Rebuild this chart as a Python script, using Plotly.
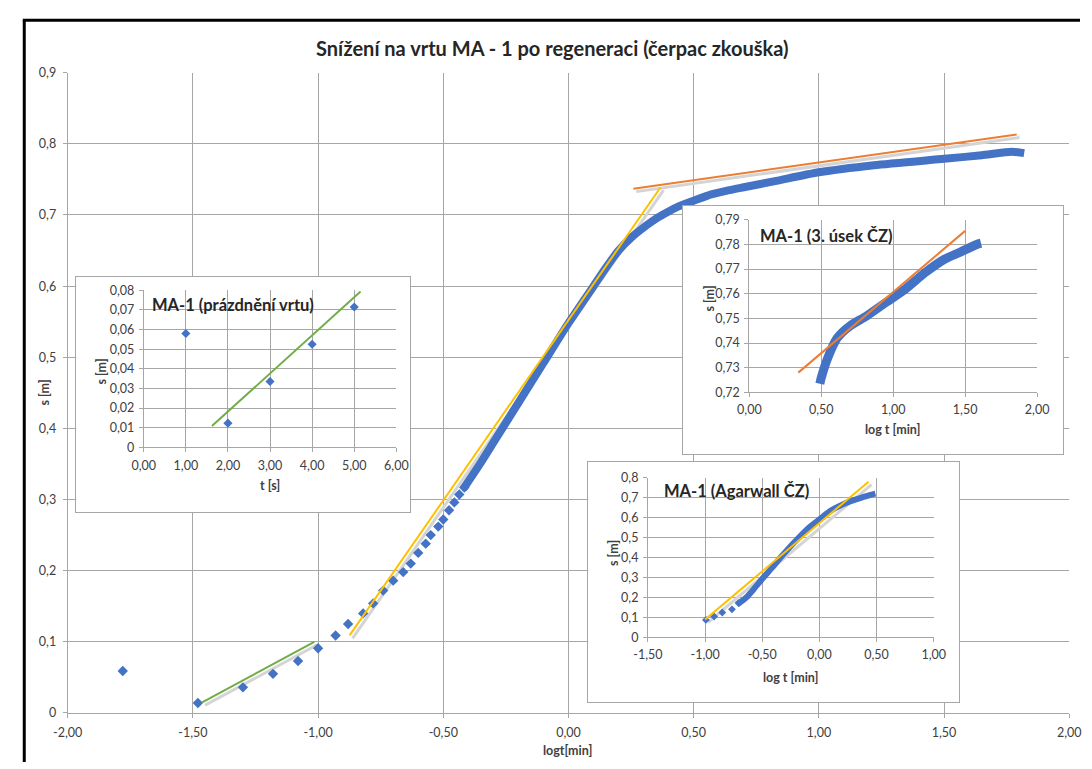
import plotly.graph_objects as go

W, H = 1092, 769
FONT = "Lato, 'Open Sans', sans-serif"
BLUE = "#4472C4"
GREEN = "#70AD47"
YELLOW = "#FFC000"
ORANGE = "#ED7D31"
SHADOW = "#d4d4d4"
GRID = "#a6a6a6"
BOXC = "#a6a6a6"
TXT = "#404040"
DARK = "#262626"

# ---------------- main chart data ----------------
main_pts_logt = [-1.78, -1.48, -1.30, -1.18, -1.08, -1.00, -0.93, -0.88, -0.82, -0.78,
                 -0.74, -0.70, -0.66, -0.63, -0.60, -0.57, -0.55, -0.52, -0.50, -0.477,
                 -0.456, -0.436, -0.416]
main_pts_s = [0.059, 0.014, 0.036, 0.055, 0.073, 0.091, 0.109, 0.125, 0.140, 0.154,
              0.172, 0.186, 0.198, 0.210, 0.225, 0.238, 0.250, 0.262, 0.272, 0.285,
              0.296, 0.307, 0.317]
main_band_logt = [-0.42, -0.35, -0.30, -0.20, -0.10, 0.00, 0.10, 0.15, 0.20, 0.25,
                  0.31, 0.35, 0.40, 0.44, 0.50, 0.57, 0.63, 0.70, 0.83, 1.00,
                  1.22, 1.50, 1.65, 1.77, 1.82]
main_band_s = [0.315, 0.352, 0.380, 0.436, 0.492, 0.548, 0.600, 0.626, 0.650, 0.668,
               0.685, 0.695, 0.705, 0.712, 0.720, 0.729, 0.734, 0.739, 0.748, 0.760,
               0.770, 0.779, 0.784, 0.789, 0.787]
main_green_logt = [-1.463, -1.015]
main_green_s = [0.015, 0.100]
main_yellow_logt = [-0.874, 0.368]
main_yellow_s = [0.109, 0.739]
main_orange_logt = [0.259, 1.79]
main_orange_s = [0.737, 0.813]
main_x_ticks = [-2.0, -1.5, -1.0, -0.5, 0.0, 0.5, 1.0, 1.5, 2.0]
main_x_ticktext = ["-2,00", "-1,50", "-1,00", "-0,50", "0,00", "0,50", "1,00", "1,50", "2,00"]

# ---------------- inset 1: MA-1 (prázdnění vrtu) ----------------
in1_t = [1, 2, 3, 4, 5]
in1_s = [0.058, 0.0123, 0.0335, 0.0525, 0.0715]
in1_green_t = [1.62, 5.15]
in1_green_s = [0.0108, 0.0794]
in1_x_ticks = [0, 1, 2, 3, 4, 5, 6]
in1_x_ticktext = ["0,00", "1,00", "2,00", "3,00", "4,00", "5,00", "6,00"]

# ---------------- inset 2: MA-1 (3. úsek ČZ) ----------------
in2_logt = [0.49, 0.50, 0.545, 0.61, 0.70, 0.815, 0.95, 1.086, 1.22, 1.356, 1.47, 1.58, 1.61]
in2_s = [0.7235, 0.726, 0.734, 0.742, 0.747, 0.751, 0.7565, 0.762, 0.7685, 0.774, 0.777, 0.780, 0.7805]
in2_orange_logt = [0.34, 1.50]
in2_orange_s = [0.728, 0.7855]
in2_x_ticks = [0.0, 0.5, 1.0, 1.5, 2.0]
in2_x_ticktext = ["0,00", "0,50", "1,00", "1,50", "2,00"]

# ---------------- inset 3: MA-1 (Agarwall ČZ) ----------------
in3_pts_logt = [-0.993, -0.921, -0.85, -0.765, -0.708]
in3_pts_s = [0.088, 0.105, 0.125, 0.141, 0.172]
in3_band_logt = [-0.72, -0.64, -0.57, -0.49, -0.41, -0.34, -0.26, -0.18, -0.08, 0.02,
                 0.10, 0.20, 0.28, 0.37, 0.44, 0.49]
in3_band_s = [0.165, 0.200, 0.245, 0.300, 0.352, 0.400, 0.452, 0.500, 0.555, 0.600,
              0.635, 0.665, 0.684, 0.700, 0.713, 0.720]
in3_yellow_logt = [-1.0, 0.43]
in3_yellow_s = [0.09, 0.78]
in3_x_ticks = [-1.5, -1.0, -0.5, 0.0, 0.5, 1.0]
in3_x_ticktext = ["-1,50", "-1,00", "-0,50", "0,00", "0,50", "1,00"]

# ---------------- layout geometry (pixels) ----------------
MAIN_X, MAIN_Y, MAIN_XR, MAIN_YR = (54, 1081), (66, 719), [-2, 2], [0, 0.9]
BOX1 = (63, 274, 405, 514)
IN1_X, IN1_Y, IN1_XR, IN1_YR = (132, 391), (288, 448), [0, 6], [0, 0.08]
BOX2 = (685, 202, 1075, 455)
IN2_X, IN2_Y, IN2_XR, IN2_YR = (753, 1048), (216, 392), [0, 2], [0.72, 0.79]
BOX3 = (588, 463, 968, 708)
IN3_X, IN3_Y, IN3_XR, IN3_YR = (649, 942), (479, 642), [-1.5, 1.0], [0, 0.8]


def dom_x(l, r):
    return [l / W, r / W]


def dom_y(t, b):
    return [1 - b / H, 1 - t / H]


def shadow(xs, ys, xpx, ypx, xr, yr, off=3):
    sx = (xr[1] - xr[0]) / (xpx[1] - xpx[0])
    sy = (yr[1] - yr[0]) / (ypx[1] - ypx[0])
    return [v + off * sx for v in xs], [v - off * sy for v in ys]


fig = go.Figure()


def add_line(xs, ys, color, width, xa, ya):
    fig.add_trace(go.Scatter(x=xs, y=ys, mode="lines",
                             line=dict(color=color, width=width, shape="spline", smoothing=0.6),
                             xaxis=xa, yaxis=ya, hoverinfo="skip", showlegend=False))


def add_pts(xs, ys, size, xa, ya):
    fig.add_trace(go.Scatter(x=xs, y=ys, mode="markers",
                             marker=dict(symbol="diamond", size=size, color=BLUE, line=dict(width=0)),
                             xaxis=xa, yaxis=ya, hoverinfo="skip", showlegend=False))


def add_box(xa, ya):
    fig.add_trace(go.Scatter(x=[0, 1, 1, 0], y=[0, 0, 1, 1], fill="toself", fillcolor="white",
                             mode="none", xaxis=xa, yaxis=ya, hoverinfo="skip", showlegend=False))


# main
for xs, ys in [(main_green_logt, main_green_s), (main_yellow_logt, main_yellow_s),
               (main_orange_logt, main_orange_s)]:
    a, b = shadow(xs, ys, MAIN_X, MAIN_Y, MAIN_XR, MAIN_YR)
    add_line(a, b, SHADOW, 3, "x", "y")
add_pts(main_pts_logt, main_pts_s, 8, "x", "y")
add_line(main_band_logt, main_band_s, BLUE, 8, "x", "y")
add_line(main_green_logt, main_green_s, GREEN, 2, "x", "y")
add_line(main_yellow_logt, main_yellow_s, YELLOW, 2, "x", "y")
add_line(main_orange_logt, main_orange_s, ORANGE, 2, "x", "y")

# inset 1
add_box("x2", "y2")
add_pts(in1_t, in1_s, 7, "x3", "y3")
add_line(in1_green_t, in1_green_s, GREEN, 2, "x3", "y3")

# inset 2
add_box("x4", "y4")
add_line(in2_logt, in2_s, BLUE, 9, "x5", "y5")
add_line(in2_orange_logt, in2_orange_s, ORANGE, 2, "x5", "y5")

# inset 3
add_box("x6", "y6")
a, b = shadow(in3_yellow_logt, in3_yellow_s, IN3_X, IN3_Y, IN3_XR, IN3_YR)
add_line(a, b, SHADOW, 3, "x7", "y7")
add_pts(in3_pts_logt, in3_pts_s, 6, "x7", "y7")
add_line(in3_band_logt, in3_band_s, BLUE, 6, "x7", "y7")
add_line(in3_yellow_logt, in3_yellow_s, YELLOW, 2, "x7", "y7")


def data_axis(domain, anchor, rng, size=12.5, **kw):
    d = dict(domain=domain, anchor=anchor, range=rng, showgrid=True, gridcolor=GRID, gridwidth=1,
             zeroline=False, showline=True, linecolor=GRID, linewidth=1, ticks="outside",
             ticklen=4, tickcolor=GRID, tickfont=dict(family=FONT, size=size, color=TXT),
             fixedrange=True)
    d.update(kw)
    return d


def box_axis(domain, anchor):
    return dict(domain=domain, anchor=anchor, range=[0, 1], showgrid=False, zeroline=False,
                showticklabels=False, ticks="", showline=True, mirror=True, linecolor=BOXC,
                linewidth=1, fixedrange=True)


layout = dict(
    width=W, height=H, margin=dict(l=0, r=0, t=0, b=0), paper_bgcolor="white",
    plot_bgcolor="white", showlegend=False, separators=", ",
    font=dict(family=FONT, color=TXT),
    xaxis=data_axis(dom_x(*MAIN_X), "y", MAIN_XR, tickmode="array", tickvals=main_x_ticks,
                    ticktext=main_x_ticktext, ticklabelstandoff=4),
    yaxis=data_axis(dom_y(*MAIN_Y), "x", MAIN_YR, tickmode="linear", tick0=0, dtick=0.1,
                    ticklabelstandoff=4),
    xaxis2=box_axis(dom_x(BOX1[0], BOX1[2]), "y2"),
    yaxis2=box_axis(dom_y(BOX1[1], BOX1[3]), "x2"),
    xaxis3=data_axis(dom_x(*IN1_X), "y3", IN1_XR, tickmode="array", tickvals=in1_x_ticks,
                     ticktext=in1_x_ticktext, ticklabelstandoff=3),
    yaxis3=data_axis(dom_y(*IN1_Y), "x3", IN1_YR, tickmode="linear", tick0=0, dtick=0.01,
                     ticklabelstandoff=2),
    xaxis4=box_axis(dom_x(BOX2[0], BOX2[2]), "y4"),
    yaxis4=box_axis(dom_y(BOX2[1], BOX2[3]), "x4"),
    xaxis5=data_axis(dom_x(*IN2_X), "y5", IN2_XR, tickmode="array", tickvals=in2_x_ticks,
                     ticktext=in2_x_ticktext, ticklabelstandoff=2),
    yaxis5=data_axis(dom_y(*IN2_Y), "x5", IN2_YR, tickmode="linear", tick0=0.72, dtick=0.01,
                     ticklabelstandoff=2),
    xaxis6=box_axis(dom_x(BOX3[0], BOX3[2]), "y6"),
    yaxis6=box_axis(dom_y(BOX3[1], BOX3[3]), "x6"),
    xaxis7=data_axis(dom_x(*IN3_X), "y7", IN3_XR, tickmode="array", tickvals=in3_x_ticks,
                     ticktext=in3_x_ticktext, ticklabelstandoff=2),
    yaxis7=data_axis(dom_y(*IN3_Y), "x7", IN3_YR, tickmode="linear", tick0=0, dtick=0.1,
                     ticklabelstandoff=2),
)


def ann(text, xp, yp, size, anchor="center", angle=0, bold=True, color=DARK):
    return dict(text=("<b>%s</b>" % text) if bold else text, x=xp / W, y=1 - yp / H,
                xref="paper", yref="paper", xanchor=anchor, yanchor="middle", showarrow=False,
                textangle=angle, font=dict(family=FONT, size=size, color=color))


layout["annotations"] = [
    ann("Snížení na vrtu MA - 1 po regeneraci (čerpac zkouška)", 551, 41, 20),
    ann("logt[min]", 566, 757, 12.5, color="#404040"),
    ann("s [m]", 30, 392, 12.5, angle=-90, color="#404040"),
    ann("MA-1 (prázdnění vrtu)", 138, 303, 16.5, anchor="left"),
    ann("t [s]", 261, 487, 12.5, color="#404040"),
    ann("s [m]", 89, 371, 12.5, angle=-90, color="#404040"),
    ann("MA-1 (3. úsek ČZ)", 762, 233, 16.5, anchor="left"),
    ann("log t [min]", 900, 430, 12.5, color="#404040"),
    ann("s [m]", 712, 296, 12.5, angle=-90, color="#404040"),
    ann("MA-1 (Agarwall ČZ)", 663, 493, 16.5, anchor="left"),
    ann("log t [min]", 795, 683, 12.5, color="#404040"),
    ann("s [m]", 613, 556, 12.5, angle=-90, color="#404040"),
]

layout["shapes"] = [
    dict(type="line", xref="paper", yref="paper", x0=9.5 / W, x1=9.5 / W, y0=0, y1=1 - 12.5 / H,
         line=dict(color="black", width=3), layer="above"),
    dict(type="line", xref="paper", yref="paper", x0=8 / W, x1=1, y0=1 - 12.5 / H, y1=1 - 12.5 / H,
         line=dict(color="black", width=3), layer="above"),
]

fig.update_layout(**layout)
fig.write_html("out.html")
